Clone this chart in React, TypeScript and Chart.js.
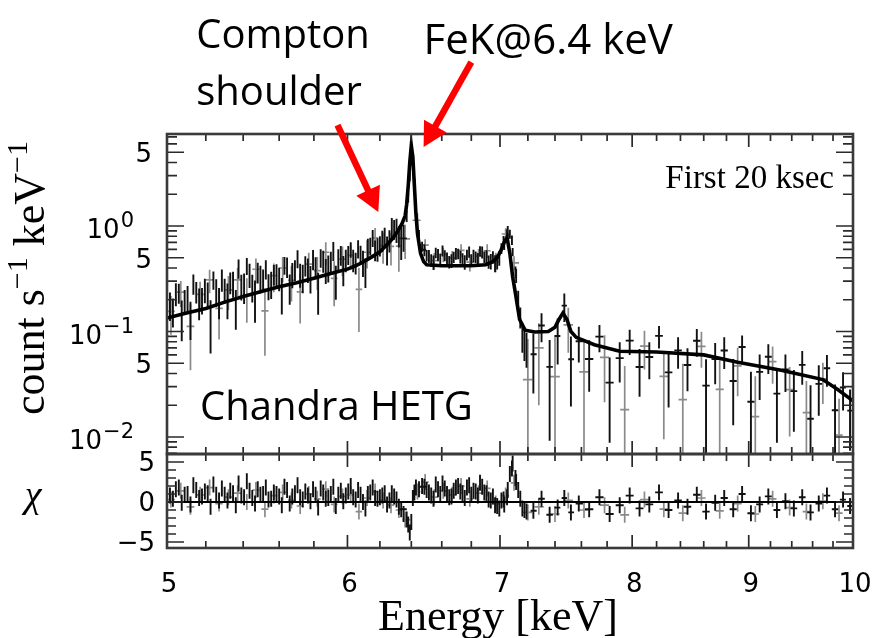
import React, { useEffect, useRef } from "react";
import { Chart, registerables } from "chart.js";

Chart.register(...registerables);

// ---------------- data ----------------
// best-fit model (count s^-1 keV^-1)
const MODEL_E = [5.0, 5.1, 5.2, 5.3, 5.4, 5.5, 5.6, 5.7, 5.8, 5.9, 6.0, 6.05, 6.1, 6.15, 6.2, 6.25, 6.28, 6.31, 6.34, 6.36, 6.37, 6.38, 6.39, 6.40, 6.41, 6.42, 6.43, 6.44, 6.46, 6.48, 6.5, 6.6, 6.7, 6.8, 6.9, 6.95, 6.98, 7.01, 7.03, 7.05, 7.07, 7.09, 7.11, 7.14, 7.18, 7.25, 7.35, 7.40, 7.43, 7.46, 7.49, 7.52, 7.56, 7.7, 7.9, 8.2, 8.6, 8.9, 9.3, 9.7, 9.85, 10.0];
const MODEL_Y = [0.134, 0.15, 0.165, 0.19, 0.215, 0.24, 0.265, 0.29, 0.32, 0.355, 0.39, 0.42, 0.46, 0.51, 0.57, 0.68, 0.76, 0.88, 1.05, 1.25, 1.6, 2.4, 4.0, 5.8, 4.5, 2.4, 1.3, 0.85, 0.55, 0.46, 0.43, 0.42, 0.42, 0.42, 0.43, 0.46, 0.50, 0.60, 0.70, 0.78, 0.55, 0.33, 0.23, 0.13, 0.103, 0.099, 0.10, 0.11, 0.13, 0.15, 0.13, 0.10, 0.088, 0.075, 0.065, 0.064, 0.06, 0.051, 0.043, 0.035, 0.028, 0.022];

// MEG spectrum, first set (black)
const MEG_E = [5.00, 5.03, 5.06, 5.09, 5.12, 5.15, 5.18, 5.21, 5.24, 5.27, 5.30, 5.33, 5.36, 5.39, 5.42, 5.45, 5.48, 5.51, 5.54, 5.57, 5.60, 5.63, 5.66, 5.69, 5.72, 5.75, 5.78, 5.81, 5.84, 5.87, 5.90, 5.93, 5.96, 5.99, 6.02, 6.05, 6.08, 6.11, 6.14, 6.17, 6.20, 6.23, 6.26, 6.29, 6.32, 6.35,
  6.37, 6.38, 6.39, 6.40, 6.41, 6.42, 6.43, 6.45, 6.47,
  6.50, 6.53, 6.56, 6.59, 6.62, 6.65, 6.68, 6.71, 6.74, 6.77, 6.80, 6.83, 6.86, 6.89, 6.92, 6.95, 6.98, 7.01, 7.03, 7.05, 7.07, 7.09, 7.11, 7.13, 7.16, 7.19,
  7.24, 7.30, 7.36, 7.42, 7.47, 7.52, 7.58, 7.66, 7.74, 7.82, 7.90, 7.98, 8.06, 8.14, 8.22, 8.30, 8.38, 8.46, 8.54, 8.62, 8.70, 8.78, 8.86, 8.94, 9.02, 9.10, 9.18, 9.26, 9.34, 9.42, 9.50, 9.58, 9.66, 9.74, 9.82, 9.90, 9.97];
const MEG_Y = [0.190, 0.157, 0.233, 0.195, 0.137, 0.239, 0.202, 0.233, 0.310, 0.195, 0.250, 0.294, 0.176, 0.271, 0.420, 0.267, 0.367, 0.315, 0.273, 0.350, 0.321, 0.427, 0.263, 0.386, 0.349, 0.424, 0.323, 0.410, 0.503, 0.385, 0.462, 0.310, 0.534, 0.481, 0.600, 0.452, 0.539, 0.376, 0.650, 0.596, 0.656, 0.803, 0.735, 0.940, 0.810, 0.798,
  1.25, 1.86, 2.94, 4.93, 4.64, 2.63, 1.42, 0.834, 0.64,
  0.527, 0.476, 0.559, 0.483, 0.527, 0.458, 0.508, 0.546, 0.489, 0.533, 0.477, 0.508, 0.578, 0.507, 0.460, 0.508, 0.463, 0.614, 0.675, 0.836, 0.839, 0.568, 0.368, 0.206, 0.092, 0.0714,
  0.0609, 0.114, 0.0462, 0.0906, 0.176, 0.0545, 0.0809, 0.0548, 0.0895, 0.0328, 0.0559, 0.0819, 0.0461, 0.0573, 0.0909, 0.041, 0.0663, 0.0482, 0.0816, 0.0307, 0.0547, 0.066, 0.0339, 0.0714, 0.0216, 0.0414, 0.0576, 0.0258, 0.0437, 0.0272, 0.0483, 0.0149, 0.0319, 0.0449, 0.0179, 0.0295, 0.0178];
const MEG_ERR = [0.047, 0.048, 0.050, 0.052, 0.054, 0.055, 0.057, 0.059, 0.061, 0.064, 0.067, 0.069, 0.072, 0.074, 0.077, 0.079, 0.082, 0.073, 0.075, 0.077, 0.080, 0.082, 0.084, 0.087, 0.089, 0.092, 0.094, 0.097, 0.100, 0.103, 0.107, 0.110, 0.113, 0.116, 0.100, 0.105, 0.110, 0.118, 0.125, 0.133, 0.143, 0.158, 0.175, 0.200, 0.184, 0.228,
  0.16, 0.19, 0.28, 0.35, 0.27, 0.19, 0.12, 0.084, 0.07,
  0.065, 0.064, 0.063, 0.063, 0.063, 0.063, 0.063, 0.063, 0.063, 0.063, 0.063, 0.064, 0.064, 0.065, 0.066, 0.069, 0.075, 0.072, 0.084, 0.094, 0.083, 0.050, 0.046, 0.038, 0.029, 0.026,
  0.035, 0.035, 0.037, 0.042, 0.053, 0.035, 0.030, 0.028, 0.026, 0.024, 0.023, 0.022, 0.022, 0.022, 0.022, 0.022, 0.022, 0.021, 0.024, 0.024, 0.023, 0.022, 0.021, 0.020, 0.020, 0.019, 0.018, 0.017, 0.017, 0.016, 0.017, 0.016, 0.016, 0.015, 0.0135, 0.0117, 0.0104];
const MEG_CHI = [1.2, 0.4, 1.8, 0.9, -0.3, 1.5, 0.7, 1.1, 2.2, 0.2, 0.9, 1.4, -0.4, 0.8, 2.6, 0.5, 1.6, 1.0, 0.3, 1.2, 0.7, 1.9, -0.2, 1.1, 0.6, 1.3, 0.1, 0.9, 1.7, 0.4, 1.0, -0.5, 1.4, 0.8, 2.0, 0.3, 0.9, -0.8, 1.2, 0.5, 0.6, 1.1, 0.2, 0.7, -0.6, -1.5,
  -2.2, -2.8, -3.8, -2.5, 0.5, 1.2, 1.8, 1.6, 2.0,
  1.5, 0.8, 2.2, 1.0, 1.7, 0.6, 1.4, 2.0, 1.1, 1.8, 0.9, 1.3, 2.4, 1.2, 0.3, 0.7, -0.5, 0.2, -0.3, 0.6, 3.5, 4.8, 3.0, 1.5, -0.8, -1.2,
  -1.1, 0.4, -1.6, -0.7, 0.5, -1.3, -0.2, -0.9, 0.6, -1.5, -0.4, 0.8, -0.8, -0.3, 1.2, -1.0, 0.2, -0.6, 0.9, -1.2, -0.1, 0.5, -0.9, 1.0, -1.4, -0.3, 0.7, -1.0, 0.1, -0.8, 0.6, -1.3, -0.2, 0.8, -0.9, 0.3, -0.5];

// MEG spectrum, second set (black, interleaved bins)
const MEG2_E = [5.015, 5.045, 5.075, 5.105, 5.135, 5.165, 5.195, 5.225, 5.255, 5.285, 5.315, 5.345, 5.375, 5.405, 5.435, 5.465, 5.495, 5.525, 5.555, 5.585, 5.615, 5.645, 5.675, 5.705, 5.735, 5.765, 5.795, 5.825, 5.855, 5.885, 5.915, 5.945, 5.975, 6.005, 6.035, 6.065, 6.095, 6.125, 6.155, 6.185, 6.215, 6.245, 6.275, 6.305, 6.335,
  6.485, 6.515, 6.545, 6.575, 6.605, 6.635, 6.665, 6.695, 6.725, 6.755, 6.785, 6.815, 6.845, 6.875, 6.905, 6.935, 6.965, 6.995, 7.025, 7.055, 7.085, 7.115, 7.145, 7.175];
const MEG2_Y = [0.180, 0.230, 0.139, 0.210, 0.285, 0.192, 0.251, 0.130, 0.242, 0.312, 0.208, 0.289, 0.399, 0.268, 0.349, 0.213, 0.324, 0.392, 0.286, 0.347, 0.233, 0.413, 0.351, 0.493, 0.330, 0.391, 0.486, 0.252, 0.472, 0.408, 0.586, 0.481, 0.395, 0.537, 0.479, 0.611, 0.455, 0.621, 0.775, 0.612, 0.734, 0.609, 0.981, 0.932, 0.763,
  0.595, 0.518, 0.454, 0.534, 0.584, 0.491, 0.470, 0.549, 0.513, 0.456, 0.570, 0.522, 0.483, 0.566, 0.514, 0.465, 0.447, 0.497, 0.709, 0.895, 0.738, 0.341, 0.1375, 0.0795];
const MEG2_ERR = [0.054, 0.056, 0.058, 0.060, 0.062, 0.064, 0.066, 0.068, 0.071, 0.074, 0.077, 0.080, 0.083, 0.086, 0.090, 0.092, 0.095, 0.081, 0.083, 0.086, 0.088, 0.091, 0.094, 0.096, 0.099, 0.102, 0.105, 0.108, 0.112, 0.116, 0.119, 0.122, 0.126, 0.110, 0.115, 0.120, 0.127, 0.136, 0.144, 0.154, 0.168, 0.186, 0.21, 0.241, 0.286,
  0.077, 0.073, 0.072, 0.071, 0.071, 0.071, 0.071, 0.071, 0.071, 0.071, 0.071, 0.072, 0.072, 0.073, 0.074, 0.077, 0.082, 0.078, 0.095, 0.104, 0.076, 0.053, 0.031, 0.027];
const MEG2_CHI = [0.8, 1.6, -0.1, 1.0, 2.1, 0.5, 1.3, -0.6, 0.9, 1.7, 0.2, 1.1, 2.3, 0.6, 1.4, -0.2, 0.9, 1.8, 0.4, 1.0, -0.4, 1.5, 0.7, 2.1, 0.3, 0.8, 1.6, -0.7, 1.2, 0.5, 1.9, 0.9, 0.1, 1.3, 0.6, 1.5, 0.0, 1.0, 1.8, 0.4, 0.8, -0.3, 1.1, 0.3, -0.9,
  1.9, 1.2, 0.4, 1.6, 2.3, 1.0, 0.7, 1.8, 1.3, 0.5, 2.1, 1.4, 0.8, 1.9, 1.1, 0.2, -0.4, -0.8, 0.3, 1.5, 4.2, 2.5, 0.4, -1.0];

// HEG spectrum (grey)
const HEG_E = [5.02, 5.07, 5.12, 5.17, 5.22, 5.27, 5.32, 5.37, 5.42, 5.47, 5.52, 5.57, 5.62, 5.67, 5.72, 5.77, 5.82, 5.87, 5.92, 5.97, 6.02, 6.07, 6.12, 6.17, 6.22, 6.27, 6.32, 6.36, 6.44, 6.49, 6.55, 6.61, 6.67, 6.73, 6.79, 6.85, 6.91, 6.97, 7.04, 7.10, 7.20, 7.28, 7.40, 7.50, 7.62, 7.78, 7.94, 8.10, 8.26, 8.42, 8.58, 8.74, 8.90, 9.06, 9.22, 9.38, 9.54, 9.70, 9.86];
const HEG_Y = [0.155, 0.236, 0.112, 0.225, 0.308, 0.166, 0.248, 0.309, 0.220, 0.389, 0.157, 0.339, 0.400, 0.306, 0.237, 0.435, 0.378, 0.564, 0.319, 0.486, 0.526, 0.251, 0.564, 0.771, 0.653, 0.642, 0.644, 0.756, 1.134, 0.660, 0.470, 0.538, 0.496, 0.588, 0.454, 0.519, 0.583, 0.461, 0.840, 0.448, 0.035, 0.070, 0.0374, 0.1155, 0.0415, 0.0568, 0.0182, 0.0726, 0.0375, 0.0226, 0.0723, 0.0283, 0.0473, 0.0156, 0.0519, 0.0281, 0.017, 0.0355, 0.0104];
const HEG_ERR = [0.062, 0.065, 0.069, 0.072, 0.077, 0.082, 0.088, 0.093, 0.099, 0.104, 0.098, 0.103, 0.108, 0.113, 0.118, 0.124, 0.130, 0.138, 0.145, 0.152, 0.14, 0.152, 0.168, 0.186, 0.214, 0.219, 0.276, 0.27, 0.18, 0.088, 0.084, 0.084, 0.084, 0.084, 0.084, 0.085, 0.087, 0.096, 0.113, 0.07, 0.05, 0.05, 0.052, 0.0525, 0.0415, 0.0355, 0.029, 0.029, 0.028, 0.027, 0.027, 0.025, 0.023, 0.022, 0.02, 0.018, 0.017, 0.015, 0.0126];
const HEG_CHI = [0.3, 1.4, -0.6, 0.9, 1.8, -0.2, 0.6, 1.1, 0.0, 1.5, -0.9, 0.8, 1.2, 0.2, -0.5, 1.0, 0.4, 1.6, -0.3, 0.7, 0.9, -1.2, 0.5, 1.3, 0.2, -0.4, -1.0, -2.2, 1.3, 2.5, 0.6, 1.4, 0.9, 2.0, 0.4, 1.1, 1.7, -0.2, 0.8, 2.4, -1.3, -0.6, -1.5, 0.2, -1.0, -0.4, -1.6, 0.3, -0.9, -1.4, 0.5, -1.1, -0.2, -1.5, 0.4, -0.7, -1.2, 0.1, -1.4];

// axes
const X_RANGE = [5, 10];
const Y_RANGE = [0.0069, 7.45];
const CHI_RANGE = [-5.75, 6];
const X_TICK_VALUES = [5, 6, 7, 8, 9, 10];
const X_TICK_LABELS = ["5", "6", "7", "8", "9", "10"];
const Y_TICK_VALUES = [5, 1, 0.5, 0.1, 0.05, 0.01];
const Y_TICK_LABELS = ["5", "10^0", "5", "10^-1", "5", "10^-2"];
const CHI_TICK_VALUES = [5, 0, -5];
const CHI_TICK_LABELS = ["5", "0", "\u22125"];

// annotations (data coordinates of the top panel)
const LABEL_TEXT = ["Compton", "shoulder", "FeK@6.4 keV", "Chandra HETG"];
const LABEL_X = [5.15, 5.15, 6.48, 5.17];
const LABEL_Y = [48.7, 14.0, 42.7, 0.0145];
const NOTE_TEXT = "First 20 ksec";
const NOTE_POS = [9.81, 2.29];
const ARROW_FROM = [[5.94, 9.06], [6.80, 35.8]];
const ARROW_TO = [[6.19, 1.358], [6.48, 5.61]];

// ---------------- helpers ----------------
function errorBarPoints(E: number[], Y: number[], ERR: number[] | null, floor: number) {
  const pts: any[] = [];
  for (let i = 0; i < E.length; i++) {
    const e = ERR ? ERR[i] : 1;
    pts.push({ x: E[i], y: Math.max(Y[i] - e, floor) }, { x: E[i], y: Y[i] + e }, { x: E[i], y: null });
    const prev = i > 0 ? E[i - 1] : E[i] - (E[i + 1] - E[i]);
    const next = i < E.length - 1 ? E[i + 1] : E[i] + (E[i] - E[i - 1]);
    const hl = Math.min((E[i] - prev) / 2, 0.045), hr = Math.min((next - E[i]) / 2, 0.045);
    if (hl + hr > 0.045) {
      pts.push({ x: E[i] - hl * 0.8, y: Y[i] }, { x: E[i] + hr * 0.8, y: Y[i] }, { x: E[i], y: null });
    }
  }
  return pts;
}

function drawPower(ctx: CanvasRenderingContext2D, label: string, right: number, py: number) {
  const [base, exp] = label.split("^");
  if (exp === undefined) {
    ctx.font = '26px "DejaVu Sans"';
    ctx.textAlign = "right";
    ctx.fillText(base, right + 18, py + 10);
    return;
  }
  const expTxt = exp.replace("-", "\u2212");
  ctx.font = '21px "DejaVu Sans"';
  const we = ctx.measureText(expTxt).width;
  ctx.textAlign = "right";
  ctx.fillText(expTxt, right, py + 1);
  ctx.font = '26px "DejaVu Sans"';
  ctx.fillText(base, right - we - 1, py + 12);
}

const paperPlugin = {
  id: "paperFrame",
  afterDatasetsDraw(chart: any) {
    const { ctx, scales } = chart;
    const x = scales.x, y = scales.y, y2 = scales.y2;
    const L = x.left, R = x.right;
    const panels = [y, y2];
    ctx.save();
    ctx.strokeStyle = "#2a2a2a";
    ctx.lineWidth = 1.7;
    ctx.beginPath();
    for (let k = 25; k <= 50; k++) {
      const px = x.getPixelForValue(k / 5);
      const len = k % 5 === 0 ? 13 : 7;
      for (const p of panels) {
        ctx.moveTo(px, p.top); ctx.lineTo(px, p.top + len);
        ctx.moveTo(px, p.bottom); ctx.lineTo(px, p.bottom - len);
      }
    }
    for (let d = -3; d <= 0; d++) {
      for (let m = 1; m <= 9; m++) {
        const v = m * Math.pow(10, d);
        if (v < y.min || v > y.max) continue;
        const py = y.getPixelForValue(v);
        const len = m === 1 || m === 5 ? 17 : 10;
        ctx.moveTo(L, py); ctx.lineTo(L + len, py);
        ctx.moveTo(R, py); ctx.lineTo(R - len, py);
      }
    }
    for (let c = -5; c <= 5; c++) {
      const py = y2.getPixelForValue(c);
      const len = c % 5 === 0 ? 17 : 9;
      ctx.moveTo(L, py); ctx.lineTo(L + len, py);
      ctx.moveTo(R, py); ctx.lineTo(R - len, py);
    }
    ctx.stroke();
    ctx.lineWidth = 2.6;
    ctx.strokeStyle = "#3a3a3a";
    for (const p of panels) ctx.strokeRect(L, p.top, R - L, p.bottom - p.top);
    ctx.restore();
  },
  afterDraw(chart: any) {
    const { ctx, scales } = chart;
    const x = scales.x, y = scales.y, y2 = scales.y2;
    const L = x.left, R = x.right;
    ctx.save();
    ctx.fillStyle = "#000";
    ctx.textBaseline = "alphabetic";

    // x tick labels
    ctx.font = '26px "DejaVu Sans"';
    ctx.textAlign = "center";
    X_TICK_VALUES.forEach((v, i) => {
      ctx.fillText(X_TICK_LABELS[i], x.getPixelForValue(v) + 2, y2.bottom + 44);
    });
    // y tick labels
    Y_TICK_VALUES.forEach((v, i) => {
      drawPower(ctx, Y_TICK_LABELS[i], L - 33, y.getPixelForValue(v));
    });
    // chi tick labels
    ctx.font = '26px "DejaVu Sans"';
    ctx.textAlign = "right";
    CHI_TICK_VALUES.forEach((v, i) => {
      ctx.fillText(CHI_TICK_LABELS[i], L - 12, y2.getPixelForValue(v) + 9);
    });

    // x title
    ctx.font = '44px "Liberation Serif"';
    ctx.textAlign = "center";
    ctx.fillText("Energy [keV]", (L + R) / 2 - 12, y2.bottom + 82);

    // chi label
    ctx.font = 'italic 38px "Liberation Serif"';
    ctx.fillText("\u03c7", L - 134, (y2.top + y2.bottom) / 2 + 6);

    // y title (rotated, with superscripts)
    const parts: [string, boolean][] = [["count s", false], ["\u22121", true], [" keV", false], ["\u22121", true]];
    const bigF = '44px "Liberation Serif"', smallF = '30px "Liberation Serif"';
    let total = 0;
    for (const [t, sup] of parts) { ctx.font = sup ? smallF : bigF; total += ctx.measureText(t).width; }
    ctx.save();
    ctx.translate(L - 123, y.top + (y.bottom - y.top) * 0.45 + total / 2);
    ctx.rotate(-Math.PI / 2);
    ctx.textAlign = "left";
    let cx = 0;
    for (const [t, sup] of parts) {
      ctx.font = sup ? smallF : bigF;
      ctx.fillText(t, cx, sup ? -17 : 0);
      cx += ctx.measureText(t).width;
    }
    ctx.restore();

    // note inside plot
    ctx.font = '33px "Liberation Serif"';
    ctx.textAlign = "right";
    ctx.fillText(NOTE_TEXT, x.getPixelForValue(NOTE_POS[0]), y.getPixelForValue(NOTE_POS[1]));

    // annotations
    ctx.textAlign = "left";
    LABEL_TEXT.forEach((t, i) => {
      ctx.font = i === 2 ? '42px "Open Sans"' : '40px "Open Sans"';
      ctx.fillText(t, x.getPixelForValue(LABEL_X[i]), y.getPixelForValue(LABEL_Y[i]));
    });

    // red arrows
    ctx.strokeStyle = "#ff0000";
    ctx.fillStyle = "#ff0000";
    ARROW_FROM.forEach((f, i) => {
      const t = ARROW_TO[i];
      const x1 = x.getPixelForValue(f[0]), y1 = y.getPixelForValue(f[1]);
      const x2 = x.getPixelForValue(t[0]), y2p = y.getPixelForValue(t[1]);
      const dx = x2 - x1, dy = y2p - y1, len = Math.hypot(dx, dy);
      const ux = dx / len, uy = dy / len;
      const hl = 24, hw = 13;
      const bx = x2 - ux * hl, by = y2p - uy * hl;
      ctx.lineWidth = 6.5;
      ctx.beginPath();
      ctx.moveTo(x1, y1);
      ctx.lineTo(bx + ux * 2, by + uy * 2);
      ctx.stroke();
      ctx.beginPath();
      ctx.moveTo(x2, y2p);
      ctx.lineTo(bx - uy * hw, by + ux * hw);
      ctx.lineTo(bx + uy * hw, by - ux * hw);
      ctx.closePath();
      ctx.fill();
    });
    ctx.restore();
  },
};

export default function App() {
  const ref = useRef<HTMLCanvasElement | null>(null);
  useEffect(() => {
    if (!ref.current) return;
    const black = "#111";
    const grey = "#8a8a8a";
    const common = { pointRadius: 0, borderWidth: 1.9, spanGaps: false, tension: 0, fill: false, clip: 0 };
    const chart = new Chart(ref.current, {
      type: "line",
      data: {
        datasets: [
          { ...common, label: "model", yAxisID: "y", data: MODEL_E.map((e, i) => ({ x: e, y: MODEL_Y[i] })), borderColor: "#000", borderWidth: 3.6 },
          { ...common, label: "zero", yAxisID: "y2", data: [{ x: X_RANGE[0], y: 0 }, { x: X_RANGE[1], y: 0 }], borderColor: "#000", borderWidth: 1.8 },
          { ...common, label: "MEG", yAxisID: "y", data: errorBarPoints(MEG_E, MEG_Y, MEG_ERR, 1e-4), borderColor: black },
          { ...common, label: "MEG chi", yAxisID: "y2", data: errorBarPoints(MEG_E, MEG_CHI, null, -100), borderColor: black },
          { ...common, label: "MEG2", yAxisID: "y", data: errorBarPoints(MEG2_E, MEG2_Y, MEG2_ERR, 1e-4), borderColor: black },
          { ...common, label: "MEG2 chi", yAxisID: "y2", data: errorBarPoints(MEG2_E, MEG2_CHI, null, -100), borderColor: black },
          { ...common, label: "HEG", yAxisID: "y", data: errorBarPoints(HEG_E, HEG_Y, HEG_ERR, 1e-4), borderColor: grey, borderWidth: 1.7 },
          { ...common, label: "HEG chi", yAxisID: "y2", data: errorBarPoints(HEG_E, HEG_CHI, null, -100), borderColor: grey, borderWidth: 1.7 },
        ] as any,
      },
      options: {
        animation: false,
        responsive: false,
        maintainAspectRatio: false,
        devicePixelRatio: 1,
        layout: { padding: { top: 134, right: 22, left: 0, bottom: 0 } },
        plugins: { legend: { display: false }, tooltip: { enabled: false } },
        events: [],
        scales: {
          x: {
            type: "logarithmic", min: X_RANGE[0], max: X_RANGE[1], bounds: "data", position: "bottom",
            ticks: { display: false }, grid: { display: false, drawTicks: false }, border: { display: false },
            afterFit: (s: any) => { s.height = 90; },
          },
          y2: {
            type: "linear", min: CHI_RANGE[0], max: CHI_RANGE[1], bounds: "data", position: "left",
            stack: "panels", stackWeight: 94, offset: false,
            ticks: { display: false }, grid: { display: false, drawTicks: false }, border: { display: false },
            afterFit: (s: any) => { s.width = 167; },
          },
          y: {
            type: "logarithmic", min: Y_RANGE[0], max: Y_RANGE[1], bounds: "data", position: "left",
            stack: "panels", stackWeight: 320,
            ticks: { display: false }, grid: { display: false, drawTicks: false }, border: { display: false },
            afterFit: (s: any) => { s.width = 167; },
          },
        },
      } as any,
      plugins: [paperPlugin],
    });
    return () => chart.destroy();
  }, []);
  return (
    <div style={{ position: "fixed", left: 0, top: 0, width: 875, height: 638, background: "#fff" }}>
      <canvas ref={ref} width={875} height={638} style={{ width: 875, height: 638, display: "block" }} />
    </div>
  );
}
